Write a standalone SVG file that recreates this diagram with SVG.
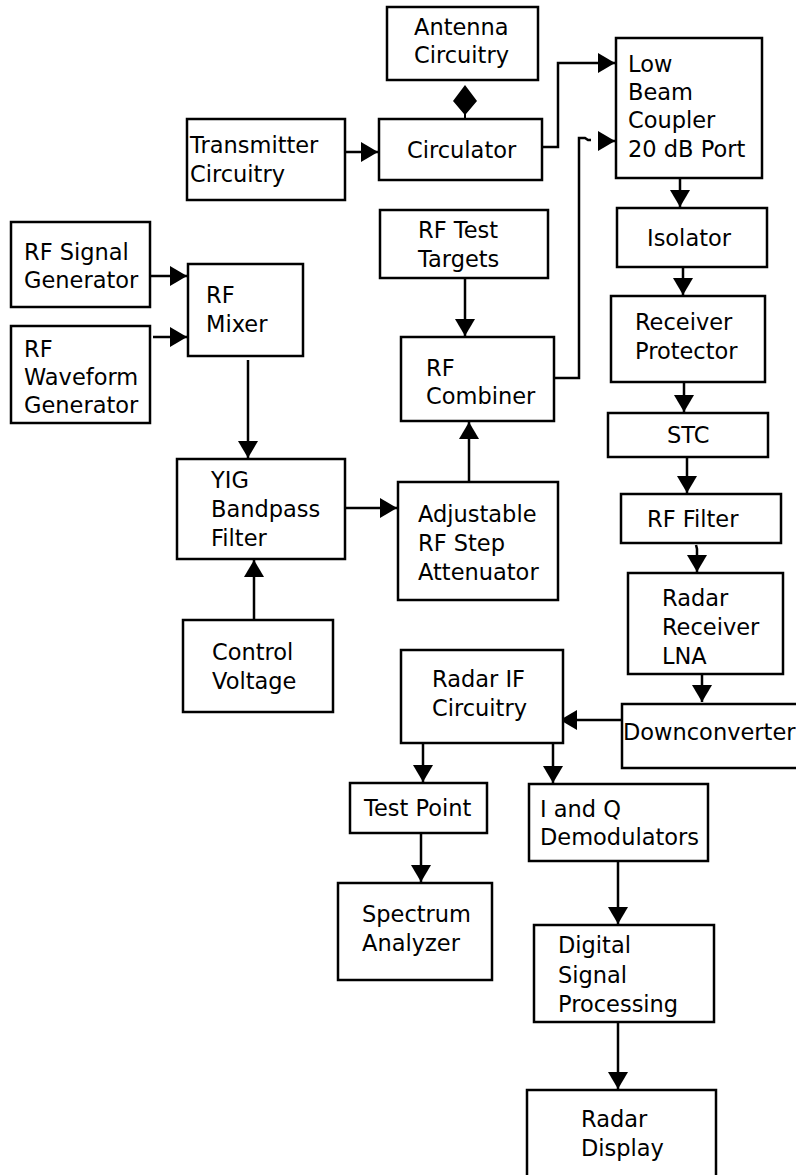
<svg xmlns="http://www.w3.org/2000/svg" width="796" height="1175" viewBox="0 0 796 1175">
<style>
.box{fill:#fff;stroke:#000;stroke-width:2.5}
.t{font-family:"DejaVu Sans","Verdana",sans-serif;font-size:22.5px;fill:#000}
.c{fill:none;stroke:#000;stroke-width:2.5}
</style>
<defs>
<marker id="ah" markerUnits="userSpaceOnUse" markerWidth="20" markerHeight="20" refX="17" refY="10" orient="auto">
<path d="M0,0 L17,10 L0,20 z" fill="#000"/>
</marker>
</defs>
<rect width="796" height="1175" fill="#fff"/>
<g id="connectors">
<path class="c" d="M345,152 H378" marker-end="url(#ah)"/>
<polygon points="465,85 477,101 466,114 466,118 464,118 464,114 453,101" fill="#000"/>
<path class="c" d="M542,147 H558 V63 H615" marker-end="url(#ah)"/>
<path class="c" d="M554,378 H579 V138 H585 L588,140 H591"/>
<path class="c" d="M598,141 H615" marker-end="url(#ah)"/>
<path class="c" d="M680,178 V207" marker-end="url(#ah)"/>
<path class="c" d="M683,267 V295" marker-end="url(#ah)"/>
<path class="c" d="M684,382 V412" marker-end="url(#ah)"/>
<path class="c" d="M687,457 V493" marker-end="url(#ah)"/>
<path class="c" d="M696,545 L697,549 V572" marker-end="url(#ah)"/>
<path class="c" d="M702,674 V702" marker-end="url(#ah)"/>
<path class="c" d="M622,720 H560" marker-end="url(#ah)"/>
<path class="c" d="M423,743 V782" marker-end="url(#ah)"/>
<path class="c" d="M553,743 V783" marker-end="url(#ah)"/>
<path class="c" d="M421,833 V882" marker-end="url(#ah)"/>
<path class="c" d="M618,861 V924" marker-end="url(#ah)"/>
<path class="c" d="M618,1022 V1089" marker-end="url(#ah)"/>
<path class="c" d="M150,276 H187" marker-end="url(#ah)"/>
<path class="c" d="M153,337 H187" marker-end="url(#ah)"/>
<path class="c" d="M248,360 V458" marker-end="url(#ah)"/>
<path class="c" d="M254,620 V560" marker-end="url(#ah)"/>
<path class="c" d="M345,508 H397" marker-end="url(#ah)"/>
<path class="c" d="M469,482 V422" marker-end="url(#ah)"/>
<path class="c" d="M465,278 V336" marker-end="url(#ah)"/>
</g>
<g id="antenna"><rect class="box" x="387" y="7" width="151" height="73"/><text class="t" x="414" y="35">Antenna</text><text class="t" x="414" y="63">Circuitry</text></g>
<g id="transmitter"><rect class="box" x="187" y="119" width="158" height="81"/><text class="t" x="190" y="153">Transmitter</text><text class="t" x="190" y="182">Circuitry</text></g>
<g id="circulator"><rect class="box" x="379" y="119" width="163" height="61"/><text class="t" x="407" y="158">Circulator</text></g>
<g id="lowbeam"><rect class="box" x="616" y="38" width="146" height="140"/><text class="t" x="628" y="72">Low</text><text class="t" x="628" y="100">Beam</text><text class="t" x="628" y="128">Coupler</text><text class="t" x="628" y="157">20 dB Port</text></g>
<g id="isolator"><rect class="box" x="617" y="208" width="150" height="59"/><text class="t" x="647" y="246">Isolator</text></g>
<g id="protector"><rect class="box" x="611" y="296" width="154" height="86"/><text class="t" x="635" y="330">Receiver</text><text class="t" x="635" y="359">Protector</text></g>
<g id="siggen"><rect class="box" x="11" y="222" width="139" height="85"/><text class="t" x="24" y="260">RF Signal</text><text class="t" x="24" y="288">Generator</text></g>
<g id="wavegen"><rect class="box" x="11" y="326" width="139" height="97"/><text class="t" x="24" y="357">RF</text><text class="t" x="24" y="385">Waveform</text><text class="t" x="24" y="413">Generator</text></g>
<g id="mixer"><rect class="box" x="188" y="264" width="115" height="92"/><text class="t" x="206" y="303">RF</text><text class="t" x="206" y="332">Mixer</text></g>
<g id="testtargets"><rect class="box" x="380" y="210" width="168" height="68"/><text class="t" x="418" y="238">RF Test</text><text class="t" x="418" y="267">Targets</text></g>
<g id="combiner"><rect class="box" x="401" y="337" width="153" height="84"/><text class="t" x="426" y="376">RF</text><text class="t" x="426" y="404">Combiner</text></g>
<g id="yig"><rect class="box" x="177" y="459" width="168" height="100"/><text class="t" x="211" y="488">YIG</text><text class="t" x="211" y="517">Bandpass</text><text class="t" x="211" y="546">Filter</text></g>
<g id="attenuator"><rect class="box" x="398" y="482" width="160" height="118"/><text class="t" x="418" y="522">Adjustable</text><text class="t" x="418" y="551">RF Step</text><text class="t" x="418" y="580">Attenuator</text></g>
<g id="control"><rect class="box" x="183" y="620" width="150" height="92"/><text class="t" x="212" y="660">Control</text><text class="t" x="212" y="689">Voltage</text></g>
<g id="stc"><rect class="box" x="608" y="413" width="160" height="44"/><text class="t" x="667" y="443">STC</text></g>
<g id="rffilter"><rect class="box" x="621" y="494" width="160" height="49"/><text class="t" x="647" y="527">RF Filter</text></g>
<g id="lna"><rect class="box" x="628" y="573" width="155" height="101"/><text class="t" x="662" y="606">Radar</text><text class="t" x="662" y="635">Receiver</text><text class="t" x="662" y="664">LNA</text></g>
<g id="downconverter"><rect class="box" x="622" y="704" width="180" height="64"/><text class="t" x="623" y="740">Downconverter</text></g>
<g id="radarif"><rect class="box" x="401" y="650" width="162" height="93"/><text class="t" x="432" y="687">Radar IF</text><text class="t" x="432" y="716">Circuitry</text></g>
<g id="testpoint"><rect class="box" x="350" y="783" width="137" height="50"/><text class="t" x="364" y="816">Test Point</text></g>
<g id="iq"><rect class="box" x="529" y="784" width="179" height="77"/><text class="t" x="540" y="817">I and Q</text><text class="t" x="540" y="845">Demodulators</text></g>
<g id="spectrum"><rect class="box" x="338" y="883" width="154" height="97"/><text class="t" x="362" y="922">Spectrum</text><text class="t" x="362" y="951">Analyzer</text></g>
<g id="dsp"><rect class="box" x="534" y="925" width="180" height="97"/><text class="t" x="558" y="953">Digital</text><text class="t" x="558" y="983">Signal</text><text class="t" x="558" y="1012">Processing</text></g>
<g id="display"><rect class="box" x="527" y="1090" width="189" height="100"/><text class="t" x="581" y="1127">Radar</text><text class="t" x="581" y="1156">Display</text></g>
</svg>
